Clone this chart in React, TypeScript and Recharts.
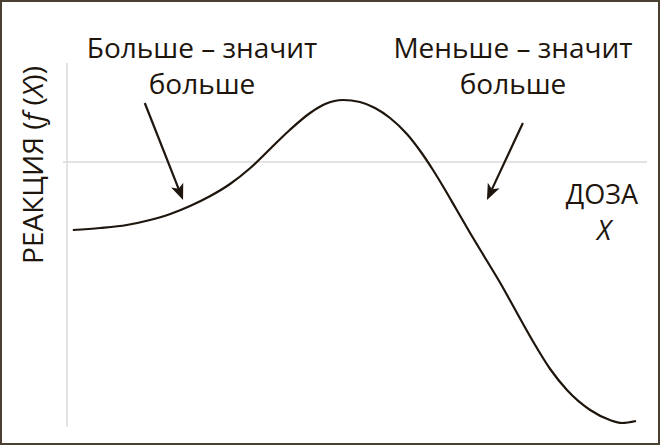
import { Line, LineChart, ReferenceLine, XAxis, YAxis } from "recharts";

// dose (x) and response (y)
const doses = [0.1, 0.57, 1.03, 1.43, 1.78, 2.12, 2.47, 2.81, 3.16, 3.5, 3.84, 4.19, 4.45, 4.76, 5.05, 5.31, 5.57, 5.86, 6.09, 6.31, 6.52, 6.71, 6.95, 7.21, 7.47, 7.72, 8.03, 8.33, 8.62, 9.02, 9.36, 9.57, 9.81];
const responses = [-0.68, -0.66, -0.63, -0.58, -0.52, -0.44, -0.34, -0.22, -0.06, 0.13, 0.32, 0.49, 0.58, 0.62, 0.6, 0.54, 0.44, 0.28, 0.11, -0.08, -0.28, -0.47, -0.71, -0.96, -1.21, -1.47, -1.79, -2.07, -2.28, -2.48, -2.58, -2.61, -2.59];

// arrow segments [fromX, fromY, toX, toY]
const arrows = [
  [1.34, 0.59, 2.0, -0.38],
  [7.86, 0.39, 7.24, -0.38],
];

const INK = "#1e150d";
const AXIS = "#dadada";
const FONT = "'Open Sans', 'Noto Sans', sans-serif";

const data = doses.map((x, i) => ({ x, y: responses[i] }));

function Arrow(props: any) {
  const { x1, y1, x2, y2 } = props;
  if (x1 == null) return null;
  const ang = Math.atan2(y2 - y1, x2 - x1);
  const len = 16;
  const half = 6.5;
  const c = Math.cos(ang);
  const s = Math.sin(ang);
  const bx = x2 - len * c;
  const by = y2 - len * s;
  const pts = `${x2},${y2} ${bx - s * half},${by + c * half} ${bx + 4 * c},${by + 4 * s} ${bx + s * half},${by - c * half}`;
  return (
    <g>
      <line x1={x1} y1={y1} x2={bx + 4 * c} y2={by + 4 * s} stroke={INK} strokeWidth={2.2} />
      <polygon points={pts} fill={INK} />
    </g>
  );
}

export default function App() {
  return (
    <div style={{ position: "absolute", left: 0, top: 0, width: 660, height: 445, background: "#fff" }}>
      <LineChart width={660} height={445} data={data} margin={{ top: 63, right: 13, left: 63, bottom: 18 }}>
        <XAxis type="number" dataKey="x" domain={[-0.07, 10]} hide />
        <YAxis type="number" domain={[-2.65, 0.99]} hide />
        <ReferenceLine x={0} stroke={AXIS} strokeWidth={1.5} />
        <ReferenceLine y={0} stroke={AXIS} strokeWidth={1.5} />
        {arrows.map((a, i) => (
          <ReferenceLine
            key={i}
            segment={[
              { x: a[0], y: a[1] },
              { x: a[2], y: a[3] },
            ]}
            shape={Arrow}
          />
        ))}
        <Line type="monotone" dataKey="y" stroke={INK} strokeWidth={2.2} dot={false} isAnimationActive={false} />
      </LineChart>
      <svg width={660} height={445} style={{ position: "absolute", left: 0, top: 0, pointerEvents: "none" }}>
        <g fontFamily={FONT} fill={INK} fontSize={28} textAnchor="middle">
          <text x={202} y={58}>Больше – значит</text>
          <text x={202} y={94}>больше</text>
          <text x={513} y={58}>Меньше – значит</text>
          <text x={513} y={94}>больше</text>
          <text x={602} y={204} fontSize={27}>ДОЗА</text>
          <text x={604} y={240} fontSize={27} fontStyle="italic">X</text>
          <text x={0} y={0} transform="translate(43,165) rotate(-90)" fontSize={28}>
            РЕАКЦИЯ (<tspan fontStyle="italic">f</tspan> (<tspan fontStyle="italic">X</tspan>))
          </text>
        </g>
        <rect x={1} y={1} width={658} height={443} fill="none" stroke="#4a4032" strokeWidth={2} />
      </svg>
    </div>
  );
}
